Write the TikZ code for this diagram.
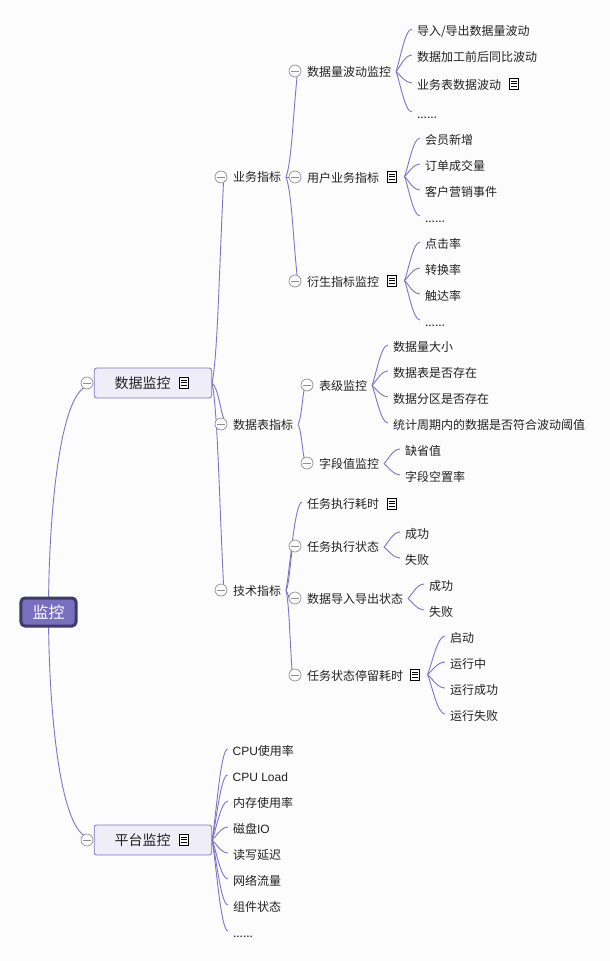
\documentclass[tikz,border=0pt]{standalone}
\usepackage{fontspec}
\setmainfont{Noto Sans CJK SC}
\newfontfamily\lat{Liberation Sans}
\usetikzlibrary{calc}
\pgfdeclarelayer{bg}
\pgfsetlayers{bg,main}
\definecolor{bgc}{HTML}{FCFCFD}
\definecolor{linec}{HTML}{7F74C6}
\definecolor{boxf}{HTML}{EEEDF8}
\definecolor{rootf}{HTML}{7A6FBE}
\definecolor{rootd}{HTML}{3F3A6B}
\definecolor{txt}{HTML}{222222}
\definecolor{cirg}{HTML}{8F8F8F}
\tikzset{
  lab/.style={anchor=west,inner sep=0pt,outer sep=0pt,text=txt,font=\fontsize{12bp}{14bp}\selectfont,text height=10.6bp,text depth=1.4bp},
  branch/.style={draw=linec,line width=0.9bp},
  colb/.style={circle,draw=cirg,fill=bgc,line width=0.7bp,minimum size=12bp,inner sep=0pt,outer sep=0pt,
    path picture={\draw[cirg,line width=1bp] ([xshift=2bp]path picture bounding box.west) -- ([xshift=-2bp]path picture bounding box.east);}},
  notei/.style={draw=black,fill=white,line width=0.9bp,minimum width=9bp,minimum height=11bp,inner sep=0pt,outer sep=0pt,
    path picture={\foreach \f in {.27,.5,.73}{\draw[black,line width=0.8bp] ($(path picture bounding box.north west)!\f!(path picture bounding box.south west)+(1.8bp,0)$) -- ($(path picture bounding box.north east)!\f!(path picture bounding box.south east)+(-1.8bp,0)$);}}},
  midbox/.style={draw=linec,fill=boxf,line width=0.8bp,rounded corners=2.5bp,minimum height=30bp,inner xsep=0pt,inner ysep=0pt,anchor=west,text=txt,font=\fontsize{14bp}{16bp}\selectfont},
  rootbox/.style={draw=rootd,fill=rootf,line width=3bp,rounded corners=4bp,minimum width=55bp,minimum height=28bp,inner sep=0pt,text=white,font=\fontsize{16bp}{18bp}\selectfont}
}
% label, collapse button, note icon
\newcommand\mmLab[4]{\node[lab] (#1) at (#2,#3) {#4};}
\newcommand\mmBtn[3]{\node[colb] (#1) at (#2,#3) {};}
\newcommand\mmNote[3]{\node[notei] (#1) at (#2,#3) {};}
% generic curve: start, end, control fractions of the span
\newcommand\mmCurve[6]{\begin{pgfonlayer}{bg}\draw[branch] let \p1=(#1),\p2=(#2) in
  (\p1) .. controls ({\x1+#3*(\x2-\x1)},{\y1+#4*(\y2-\y1)}) and ({\x1+#5*(\x2-\x1)},{\y1+#6*(\y2-\y1)}) .. (\p2);\end{pgfonlayer}}
% connector to a leaf label
\newcommand\mmLeaf[3][5bp]{\mmCurve{[xshift=#1]#2.east}{[xshift=-5bp,yshift=2bp]#3.west}{.25}{.25}{.55}{1}}
% connector to a collapse button
\newcommand\mmBr[4][5bp]{\mmCurve{[xshift=#1]#2.east}{#3.#4}{.5}{.15}{.6}{.55}}
% connector from the root
\newcommand\mmRoot[2]{\mmCurve{root.center}{#1.#2}{0}{.4}{.28}{.92}}
\begin{document}
\begin{tikzpicture}[x=1bp,y=-1bp]
\useasboundingbox (0,0) rectangle (610,961);
\begin{pgfonlayer}{bg}\fill[bgc] (0,0) rectangle (610,961);\end{pgfonlayer}
% root and main branches
\node[rootbox] (root) at (48.5,612) {监控};
\node[midbox] (dm) at (93.8,383) {\hspace*{20.5bp}数据监控\hspace*{41bp}};
\node[midbox] (pm) at (93.8,840) {\hspace*{20.5bp}平台监控\hspace*{41bp}};
\mmBtn{bdm}{87}{383}\mmBtn{bpm}{87}{840}
\mmNote{ndm}{184}{382.5}\mmNote{npm}{184}{839.5}
\mmRoot{bdm}{-125}\mmRoot{bpm}{125}
% level 2
\mmLab{yw}{233}{177}{业务指标}\mmBtn{byw}{221}{177}
\mmLab{sj}{233}{424.5}{数据表指标}\mmBtn{bsj}{221}{424}
\mmLab{js}{233}{590.5}{技术指标}\mmBtn{bjs}{221}{590}
\mmBr[0bp]{dm}{byw}{-65}\mmBr[0bp]{dm}{bsj}{65}\mmBr[0bp]{dm}{bjs}{65}
% level 3: business
\mmLab{a1}{307}{71.5}{数据量波动监控}\mmBtn{ba1}{295}{71}
\mmLab{a2}{307}{177.5}{用户业务指标}\mmBtn{ba2}{295}{177}\mmNote{na2}{392}{176.5}
\mmLab{a3}{307}{281.5}{衍生指标监控}\mmBtn{ba3}{295}{281}\mmNote{na3}{392}{280.5}
\mmBr{yw}{ba1}{-70}\mmBr{yw}{ba2}{west}\mmBr{yw}{ba3}{70}
\mmLab{a11}{417}{31}{导入/导出数据量波动}
\mmLab{a12}{417}{57}{数据加工前后同比波动}
\mmLab{a13}{417}{85}{业务表数据波动}\mmNote{na13}{514}{83.5}
\mmLab{a14}{417}{114}{......}
\mmLeaf{a1}{a11}\mmLeaf{a1}{a12}\mmLeaf{a1}{a13}\mmLeaf{a1}{a14}
\mmLab{a21}{425}{140}{会员新增}
\mmLab{a22}{425}{166}{订单成交量}
\mmLab{a23}{425}{192}{客户营销事件}
\mmLab{a24}{425}{218}{......}
\mmLeaf[8bp]{na2}{a21}\mmLeaf[8bp]{na2}{a22}\mmLeaf[8bp]{na2}{a23}\mmLeaf[8bp]{na2}{a24}
\mmLab{a31}{425}{244}{点击率}
\mmLab{a32}{425}{270}{转换率}
\mmLab{a33}{425}{296}{触达率}
\mmLab{a34}{425}{322}{......}
\mmLeaf[8bp]{na3}{a31}\mmLeaf[8bp]{na3}{a32}\mmLeaf[8bp]{na3}{a33}\mmLeaf[8bp]{na3}{a34}
% level 3: tables
\mmLab{b1}{319}{385.5}{表级监控}\mmBtn{bb1}{307}{385}
\mmLab{b2}{319}{463.5}{字段值监控}\mmBtn{bb2}{307}{463}
\mmBr{sj}{bb1}{-120}\mmBr{sj}{bb2}{120}
\mmLab{b11}{393}{347}{数据量大小}
\mmLab{b12}{393}{373}{数据表是否存在}
\mmLab{b13}{393}{399}{数据分区是否存在}
\mmLab{b14}{393}{425}{统计周期内的数据是否符合波动阈值}
\mmLeaf{b1}{b11}\mmLeaf{b1}{b12}\mmLeaf{b1}{b13}\mmLeaf{b1}{b14}
\mmLab{b21}{405}{451}{缺省值}
\mmLab{b22}{405}{477}{字段空置率}
\mmLeaf{b2}{b21}\mmLeaf{b2}{b22}
% level 3: technical
\mmLab{c1}{307}{504}{任务执行耗时}\mmNote{nc1}{392}{503.5}
\mmLab{c2}{307}{547}{任务执行状态}\mmBtn{bc2}{295}{546}
\mmLab{c3}{307}{598.5}{数据导入导出状态}\mmBtn{bc3}{295}{598}
\mmLab{c4}{307}{676}{任务状态停留耗时}\mmBtn{bc4}{295}{675}\mmNote{nc4}{415}{674.5}
\mmLeaf{js}{c1}\mmBr{js}{bc2}{-120}\mmBr{js}{bc3}{west}\mmBr{js}{bc4}{120}
\mmLab{c21}{405}{534}{成功}
\mmLab{c22}{405}{560}{失败}
\mmLeaf{c2}{c21}\mmLeaf{c2}{c22}
\mmLab{c31}{429}{586}{成功}
\mmLab{c32}{429}{612}{失败}
\mmLeaf{c3}{c31}\mmLeaf{c3}{c32}
\mmLab{c41}{450}{638}{启动}
\mmLab{c42}{450}{664}{运行中}
\mmLab{c43}{450}{690}{运行成功}
\mmLab{c44}{450}{716}{运行失败}
\mmLeaf[8bp]{nc4}{c41}\mmLeaf[8bp]{nc4}{c42}\mmLeaf[8bp]{nc4}{c43}\mmLeaf[8bp]{nc4}{c44}
% platform leaves
\mmLab{p1}{232.6}{751}{{\lat CPU}使用率}
\mmLab{p2}{232.6}{777}{{\lat CPU Load}}
\mmLab{p3}{233}{803}{内存使用率}
\mmLab{p4}{233}{829}{磁盘{\lat IO}}
\mmLab{p5}{233}{855}{读写延迟}
\mmLab{p6}{233}{881}{网络流量}
\mmLab{p7}{233}{907}{组件状态}
\mmLab{p8}{233}{933}{......}
\mmLeaf[0bp]{pm}{p1}\mmLeaf[0bp]{pm}{p2}\mmLeaf[0bp]{pm}{p3}\mmLeaf[0bp]{pm}{p4}
\mmLeaf[0bp]{pm}{p5}\mmLeaf[0bp]{pm}{p6}\mmLeaf[0bp]{pm}{p7}\mmLeaf[0bp]{pm}{p8}
\end{tikzpicture}
\end{document}
